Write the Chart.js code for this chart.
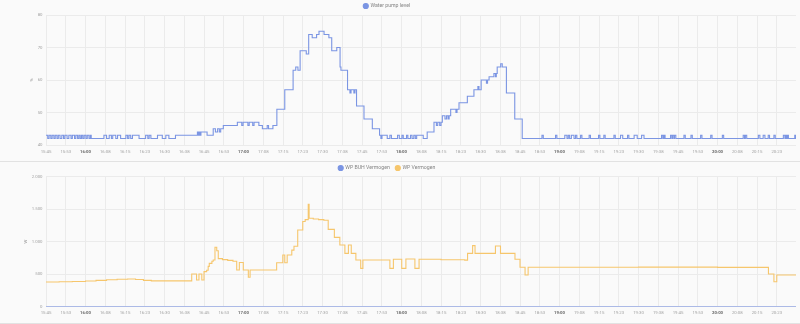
<!DOCTYPE html>
<html lang="nl">
<head>
<meta charset="utf-8">
<title>Waterpomp en warmtepomp</title>
<script src="https://cdn.jsdelivr.net/npm/chart.js@4.4.1/dist/chart.umd.min.js"></script>
<style>
  html, body { margin: 0; padding: 0; background: #fafafa; }
  body { width: 800px; height: 324px; position: relative; overflow: hidden; }
  canvas { position: absolute; left: 0; }
  #pumpChart { top: 0; }
  #powerChart { top: 162px; }
  .divider { position: absolute; left: 0; width: 800px; height: 1px; background: #e2e2e2; }
</style>
</head>
<body>
<canvas id="pumpChart" width="800" height="161"></canvas>
<div class="divider" style="top:161px"></div>
<canvas id="powerChart" width="800" height="161"></canvas>
<div class="divider" style="top:323px"></div>
<script>
// ---- history range and time axis ----
const rangeStart = '15:45:00';
const rangeEnd = '20:29:48';
const tickStepMinutes = 7.5;
const tickLabels = ['15:45','15:53','16:00','16:08','16:15','16:23','16:30','16:38','16:45','16:53',
  '17:00','17:08','17:15','17:23','17:30','17:38','17:45','17:53','18:00','18:08','18:15','18:23',
  '18:30','18:38','18:45','18:53','19:00','19:08','19:15','19:23','19:30','19:38','19:45','19:53',
  '20:00','20:08','20:15','20:23'];

// ---- Water pump level (%) : state changes ----
const pumpTimes = [
  '15:45:00','15:45:40','15:46:10','15:46:50','15:47:20','15:48:00','15:48:30','15:49:10','15:49:40','15:50:20',
  '15:51:00','15:51:40','15:52:10','15:53:00','15:53:40','15:54:30','15:55:00','15:55:50','15:56:20','15:57:00',
  '15:57:30','15:58:00','15:58:30','15:59:00','15:59:30','16:00:10','16:00:40','16:01:20','16:01:50','16:02:10',
  '16:07:00','16:08:00','16:09:00','16:09:50','16:10:20','16:11:30','16:12:10','16:13:20','16:15:20','16:16:00',
  '16:16:30','16:17:10','16:17:50','16:20:20','16:22:50','16:23:40','16:24:10','16:24:50','16:27:20','16:29:10',
  '16:30:30','16:31:40','16:34:10','16:42:30','16:42:50','16:43:10','16:43:30','16:43:50','16:46:10','16:48:30',
  '16:49:20','16:50:10','16:50:50','16:51:20','16:52:20','16:57:40','16:59:20','16:59:50','17:01:40','17:02:10',
  '17:03:30','17:04:00','17:05:50','17:07:10','17:09:00','17:09:30','17:11:10','17:12:40','17:15:40','17:18:50',
  '17:19:50','17:20:40','17:21:30','17:23:50','17:24:45','17:26:05','17:27:45','17:28:40','17:30:35','17:32:25',
  '17:33:30','17:35:25','17:36:40','17:37:00','17:39:30','17:40:25','17:40:50','17:41:55','17:42:20','17:42:55',
  '17:45:45','17:48:55','17:51:40','17:52:10','17:52:35','17:54:35','17:55:35','17:56:10','17:58:30','17:59:10',
  '18:00:10','18:00:40','18:01:55','18:02:25','18:03:25','18:04:00','18:04:40','18:05:15','18:05:45','18:08:15',
  '18:09:45','18:12:20','18:13:15','18:13:45','18:14:30','18:15:00','18:15:30','18:16:30','18:17:05','18:17:40',
  '18:18:05','18:18:40','18:20:40','18:21:05','18:21:50','18:25:00','18:27:30','18:29:00','18:29:25','18:30:15',
  '18:32:15','18:32:40','18:33:15','18:35:05','18:35:40','18:36:00','18:36:20','18:37:40','18:38:15','18:39:50',
  '18:43:00','18:45:50',
  '18:53:20','18:53:50','18:58:30','18:59:00','19:02:00','19:02:50','19:03:20','19:03:50','19:04:30','19:05:30',
  '19:06:05','19:06:35','19:08:00','19:08:30','19:11:15','19:11:45','19:14:50','19:15:20','19:16:50','19:17:20',
  '19:20:40','19:21:10','19:23:10','19:24:00','19:25:50','19:26:20','19:28:20','19:29:30','19:31:10','19:32:05',
  '19:38:45','19:39:15','19:39:40','19:40:05','19:42:10','19:42:40','19:42:55','19:43:25','19:43:40','19:44:10',
  '19:47:15','19:47:45','19:49:55','19:50:25','19:53:35','19:54:05','19:57:25','19:57:55','20:01:50','20:02:20',
  '20:09:45','20:10:15','20:10:35','20:11:05','20:15:30','20:16:05','20:17:20','20:18:00','20:19:15','20:19:45',
  '20:21:25','20:21:55','20:25:00','20:25:35','20:25:55','20:26:20','20:26:35','20:26:55','20:29:20','20:29:40',
  '20:29:48'
];
const pumpLevels = [
  43,42,43,42,43,42,43,42,43,42,
  43,42,43,42,43,42,43,42,43,42,
  43,42,43,42,43,42,43,42,43,42,
  43,42,43,42,43,42,43,42,43,42,
  43,42,43,42,43,42,43,42,43,42,
  43,42,43,44,43,44,43,44,43,45,
  44,45,44,45,46,47,46,47,46,47,
  46,47,46,45,46,45,46,51,57,63,
  64,63,69,68,74,73,74,75,74,73,
  69,70,64,63,57,56,57,56,57,52,
  48,45,43,42,43,42,43,42,43,42,
  43,42,43,42,43,42,43,42,43,42,
  44,47,46,47,46,47,49,48,49,48,
  49,51,50,51,53,55,57,58,57,60,
  59,60,61,62,61,62,64,65,64,56,
  48,42,
  43,42,43,42,43,42,43,42,43,42,
  43,42,43,42,43,42,43,42,43,42,
  43,42,43,42,43,42,43,42,43,42,
  43,42,43,42,43,42,43,42,43,42,
  43,42,43,42,43,42,43,42,43,42,
  43,42,43,42,43,42,43,42,43,42,
  43,42,43,42,43,42,43,42,43,42,
  42
];

// ---- WP Vermogen (W) : state changes ----
const powerTimes = [
  '15:45:00','15:50:00','15:55:00','16:00:00','16:04:00','16:08:00','16:12:00','16:16:00','16:19:00','16:22:00',
  '16:25:00','16:30:00','16:35:00','16:40:20','16:42:10','16:43:05','16:44:10','16:45:00','16:46:00','16:46:35',
  '16:47:00','16:48:00','16:48:30','16:49:10','16:49:50','16:50:25','16:52:00','16:54:00','16:56:00','16:57:25',
  '16:58:25','16:59:55','17:01:50','17:02:30','17:12:35','17:14:55','17:15:40','17:16:35','17:18:20','17:19:10',
  '17:20:35','17:22:30','17:23:25','17:24:35','17:24:55','17:26:30','17:28:30','17:30:30','17:32:10','17:34:30',
  '17:36:35','17:38:30','17:39:50','17:40:55','17:42:40','17:44:30','17:45:20','17:55:35','17:56:55','18:00:05',
  '18:01:40','18:05:05','18:06:40','18:15:00','18:24:00','18:25:05','18:27:00','18:27:55','18:35:40','18:37:35',
  '18:43:05','18:45:00','18:46:55','18:48:05','19:30:00','20:00:00','20:19:20','20:21:25','20:22:30','20:29:48'
];
const powerValues = [
  380,383,388,395,405,415,423,426,418,405,
  398,397,398,503,410,503,410,540,560,620,
  667,700,718,914,860,740,725,712,700,565,
  680,565,452,565,677,795,677,795,870,930,
  1180,1310,1340,1575,1360,1350,1340,1330,1190,1067,
  949,821,949,821,718,590,718,590,730,590,
  733,590,729,723,717,821,939,821,934,821,
  729,606,488,606,609,605,503,385,488,488
];

// ---- WP BUH Vermogen (W) ----
const buhTimes = ['15:45:00', '20:29:48'];
const buhValues = [0, 0];

// ---- helpers ----
const toMinutes = s => {
  const [h, m, sec = 0] = s.split(':').map(Number);
  return h * 60 + m + sec / 60;
};
const toPoints = (times, values) => times.map((t, i) => ({ x: toMinutes(t), y: values[i] }));
const thousands = v => String(v).replace(/\B(?=(\d{3})+(?!\d))/g, '.');

const BLUE = '#7b95e3';
const ORANGE = '#f6c66c';
const GRID = '#ebebeb';
const FONT = 'Roboto';
const TICK_SIZE = 4.3;

// Fixed legend height and placement inside each chart canvas
const legendPlacement = {
  id: 'legendPlacement',
  beforeInit(chart, args, opts) {
    const legend = chart.legend;
    const fit = legend.fit;
    legend.fit = function () { fit.call(this); this.height = opts.height; };
    const draw = legend.draw;
    legend.draw = function (...a) {
      this.left += opts.dx; this.right += opts.dx; this.top += opts.dy;
      draw.apply(this, a);
      this.left -= opts.dx; this.right -= opts.dx; this.top -= opts.dy;
    };
  }
};

function timeAxis(axisHeight) {
  return {
    type: 'linear',
    min: toMinutes(rangeStart),
    max: toMinutes(rangeEnd),
    afterBuildTicks: scale => {
      const first = toMinutes(rangeStart);
      scale.ticks = tickLabels.map((_, i) => ({ value: first + i * tickStepMinutes }));
    },
    afterFit: scale => { scale.height = axisHeight; },
    ticks: {
      autoSkip: false,
      maxRotation: 0,
      padding: 4,
      callback: (v, i) => tickLabels[i],
      font: ctx => ({ family: FONT, size: TICK_SIZE,
        weight: (tickLabels[ctx.index] || '').endsWith(':00') ? 'bold' : 'normal' }),
      color: ctx => (tickLabels[ctx.index] || '').endsWith(':00') ? '#6b6b6b' : '#a3a3a3'
    },
    grid: { color: GRID, drawTicks: false },
    border: { display: false }
  };
}

function valueAxis(min, max, step, unit, titlePad, format) {
  return {
    min, max,
    afterFit: scale => { scale.width = 46; },
    ticks: {
      stepSize: step, padding: 3.5,
      font: { family: FONT, size: TICK_SIZE },
      color: '#a3a3a3',
      callback: v => format(v)
    },
    title: {
      display: true, text: unit, color: '#9a9a9a',
      font: { family: FONT, size: TICK_SIZE },
      padding: { top: titlePad, bottom: 0 }
    },
    grid: { color: GRID, drawTicks: false },
    border: { display: false }
  };
}

function lineSet(label, color, points) {
  return {
    label, data: points,
    borderColor: color, backgroundColor: color,
    borderWidth: 1.1, pointRadius: 0, stepped: true, tension: 0
  };
}

function baseOptions(legendHeight, axisHeight, yAxis) {
  return {
    responsive: false,
    animation: false,
    devicePixelRatio: 1,
    parsing: false,
    layout: { padding: { left: 0, right: 4, top: 0, bottom: 0 } },
    scales: { x: timeAxis(axisHeight), y: yAxis },
    plugins: {
      tooltip: { enabled: false },
      legendPlacement: { height: legendHeight, dx: -11, dy: -2.6 },
      legend: {
        position: 'top',
        labels: {
          usePointStyle: true, pointStyle: 'circle',
          boxWidth: 4, boxHeight: 3.6, padding: 6,
          color: '#858585',
          font: { family: FONT, size: 5.2 }
        }
      }
    }
  };
}

new Chart(document.getElementById('pumpChart'), {
  type: 'line',
  data: { datasets: [lineSet('Water pump level', BLUE, toPoints(pumpTimes, pumpLevels))] },
  options: baseOptions(15, 16, valueAxis(40, 80, 10, '%', 29, v => String(v))),
  plugins: [legendPlacement]
});

new Chart(document.getElementById('powerChart'), {
  type: 'line',
  data: {
    datasets: [
      lineSet('WP BUH Vermogen', BLUE, toPoints(buhTimes, buhValues)),
      lineSet('WP Vermogen', ORANGE, toPoints(powerTimes, powerValues))
    ]
  },
  options: baseOptions(14.7, 16.3, valueAxis(0, 2000, 500, 'W', 23.4, thousands)),
  plugins: [legendPlacement]
});
</script>
</body>
</html>
